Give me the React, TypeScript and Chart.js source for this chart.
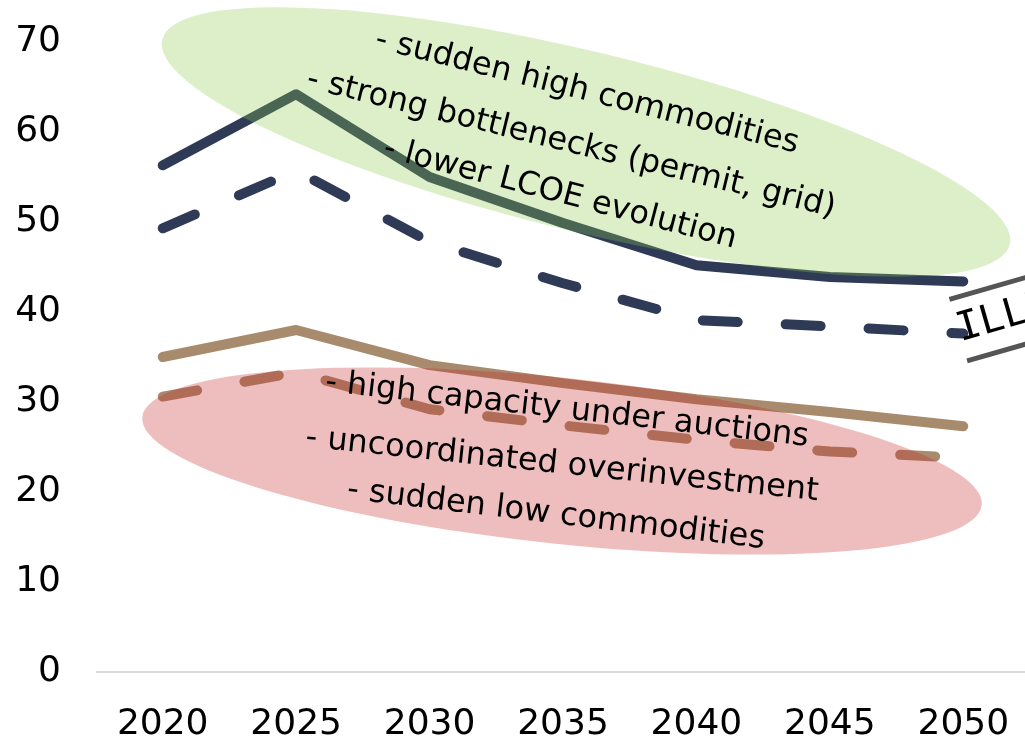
import React, { useEffect, useRef } from "react";
import { Chart, registerables } from "chart.js";

Chart.register(...registerables);

// ---- data ----
const years = ["2020", "2025", "2030", "2035", "2040", "2045", "2050"];
const highSolid = [56.3, 64.2, 55.0, 49.9, 45.2, 43.9, 43.4];
const highDashed = [49.3, 55.7, 47.8, 43.2, 39.1, 38.4, 37.6];
const lowSolid = [35.0, 38.0, 34.1, 32.1, 30.3, 28.9, 27.3];
const lowDashed = [30.6, 33.3, 29.2, 27.4, 25.8, 24.5, 23.8];
const yTicks = [0, 10, 20, 30, 40, 50, 60, 70];

const greenNotes = [
  "- sudden high commodities",
  "- strong bottlenecks (permit, grid)",
  "- lower LCOE evolution",
];
const redNotes = [
  "- high capacity under auctions",
  "- uncoordinated overinvestment",
  "- sudden low commodities",
];
const stampText = "ILLUSTRATIVE";

// ---- styles ----
const NAVY = "#2E3A56";
const TAN = "#A88A6D";
const DASH = [35, 48];

const deg = (d: number) => (d * Math.PI) / 180;

const notesPlugin = {
  id: "notes",
  afterDatasetsDraw(chart: any) {
    const ctx: CanvasRenderingContext2D = chart.ctx;
    ctx.save();
    // ellipses (translucent, over the lines)
    ctx.fillStyle = "rgba(138,202,75,0.3)";
    ctx.beginPath();
    ctx.ellipse(586, 142, 436, 90, deg(13.6), 0, Math.PI * 2);
    ctx.fill();
    ctx.fillStyle = "rgba(198,40,40,0.3)";
    ctx.beginPath();
    ctx.ellipse(562, 461, 422, 83, deg(6), 0, Math.PI * 2);
    ctx.fill();

    // notes text
    ctx.fillStyle = "#000";
    ctx.font = "32px 'DejaVu Sans'";
    ctx.textAlign = "center";
    ctx.textBaseline = "middle";
    const gPos = [
      [587, 92, 14],
      [571, 144, 13.8],
      [560, 194, 14.6],
    ];
    greenNotes.forEach((t, i) => {
      ctx.save();
      ctx.translate(gPos[i][0], gPos[i][1]);
      ctx.rotate(deg(gPos[i][2]));
      ctx.fillText(t, 0, 0);
      ctx.restore();
    });
    const rPos = [
      [567, 410, 6.5],
      [562, 465, 6.0],
      [556, 515, 6.8],
    ];
    redNotes.forEach((t, i) => {
      ctx.save();
      ctx.translate(rPos[i][0], rPos[i][1]);
      ctx.rotate(deg(rPos[i][2]));
      ctx.fillText(t, 0, 0);
      ctx.restore();
    });

    // stamp
    ctx.save();
    ctx.translate(990, 321);
    ctx.rotate(deg(-16));
    ctx.strokeStyle = "#555555";
    ctx.lineWidth = 5;
    ctx.beginPath();
    ctx.moveTo(-33, -32);
    ctx.lineTo(320, -32);
    ctx.moveTo(-33, 32);
    ctx.lineTo(320, 32);
    ctx.stroke();
    ctx.fillStyle = "#000";
    ctx.font = "40px 'DejaVu Sans Mono'";
    ctx.textAlign = "left";
    ctx.textBaseline = "middle";
    ctx.fillText(stampText, -34, 1);
    ctx.restore();

    ctx.restore();
  },
};

export default function App() {
  const ref = useRef<HTMLCanvasElement | null>(null);

  useEffect(() => {
    document.body.style.margin = "0";
    if (!ref.current) return;
    const mk = (data: number[], color: string, dashed: boolean) => ({
      data,
      borderColor: color,
      backgroundColor: color,
      borderWidth: 10,
      borderDash: dashed ? DASH : [],
      borderCapStyle: "round" as const,
      borderJoinStyle: "round" as const,
      pointRadius: 0,
      tension: 0,
      fill: false,
    });
    const chart = new Chart(ref.current, {
      type: "line",
      data: {
        labels: years,
        datasets: [
          mk(highSolid, NAVY, false),
          mk(highDashed, NAVY, true),
          mk(lowSolid, TAN, false),
          mk(lowDashed, TAN, true),
        ],
      },
      options: {
        responsive: false,
        animation: false,
        layout: { padding: { top: 42, left: 0, right: 0, bottom: 0 } },
        plugins: { legend: { display: false }, tooltip: { enabled: false } },
        scales: {
          x: {
            offset: true,
            grid: { display: false, drawTicks: false },
            border: { display: false },
            ticks: {
              font: { family: "DejaVu Sans", size: 36 },
              color: "#000",
              padding: 31,
              maxRotation: 0,
              autoSkip: false,
            },
            afterFit: (s: any) => {
              s.height = 70;
              s.paddingLeft = 0;
              s.paddingRight = 0;
            },
          },
          y: {
            min: 0,
            max: 70,
            afterBuildTicks: (s: any) => {
              s.ticks = yTicks.map((v) => ({ value: v }));
            },
            ticks: {
              font: { family: "DejaVu Sans", size: 36 },
              color: "#000",
              padding: 35,
            },
            grid: {
              drawTicks: false,
              color: (c: any) => (c.tick && c.tick.value === 0 ? "#D9D9D9" : "rgba(0,0,0,0)"),
              lineWidth: 2,
            },
            border: { display: false },
            afterFit: (s: any) => {
              s.width = 96;
              s.paddingTop = 0;
              s.paddingBottom = 0;
              s.paddingLeft = 0;
              s.paddingRight = 0;
            },
          },
        },
      },
      plugins: [notesPlugin],
    });
    return () => chart.destroy();
  }, []);

  return (
    <div style={{ width: 1025, height: 742, overflow: "hidden" }}>
      <canvas ref={ref} width={1030} height={742} style={{ display: "block" }} />
    </div>
  );
}
